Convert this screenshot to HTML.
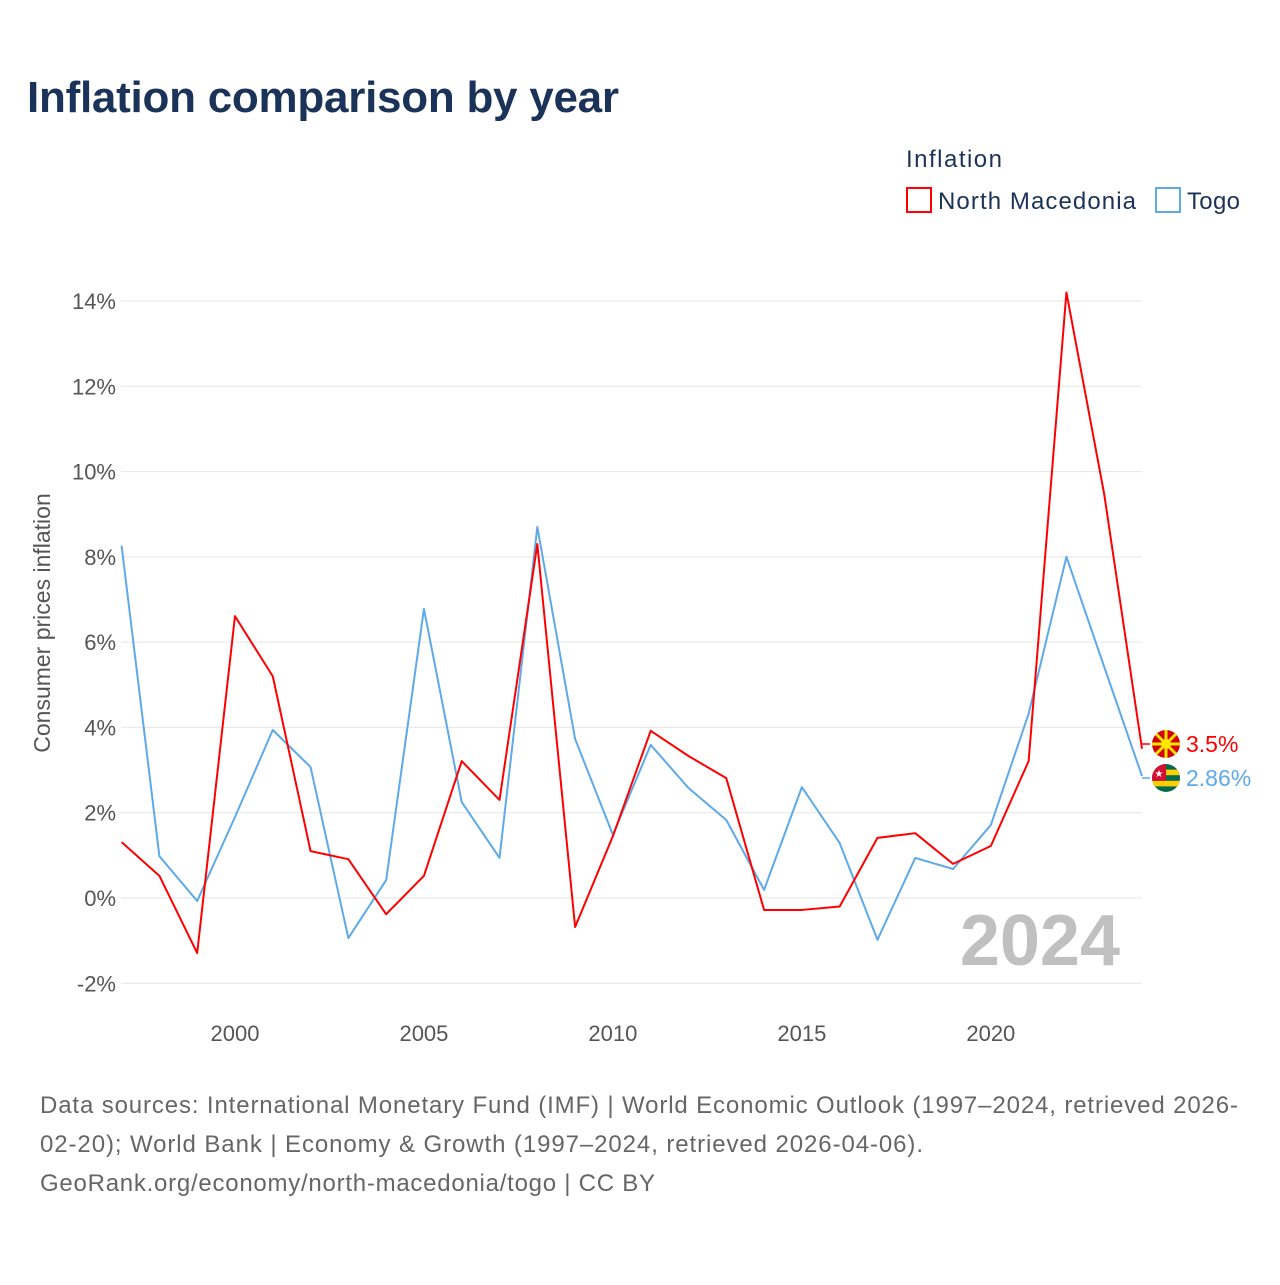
<!DOCTYPE html>
<html><head><meta charset="utf-8">
<style>
body{margin:0;background:#fff;font-family:"Liberation Sans",sans-serif;}
svg text{font-family:"Liberation Sans",sans-serif;}
</style></head>
<body>
<svg width="1280" height="1280" viewBox="0 0 1280 1280">
<text x="27" y="112" font-size="44" font-weight="bold" fill="#1b3358" textLength="592">Inflation comparison by year</text>
<text x="906" y="167" font-size="24" fill="#1b3358" textLength="96">Inflation</text>
<g>
<rect x="907" y="188" width="24" height="24" fill="none" stroke="#ff0000" stroke-width="2"/>
<text x="938" y="209" font-size="24" fill="#1b3358" textLength="198">North Macedonia</text></g>
<g>
<rect x="1156" y="188" width="24" height="24" fill="none" stroke="#5ea9ea" stroke-width="2"/>
<text x="1187" y="209" font-size="24" fill="#1b3358" textLength="53">Togo</text></g>
<g id="grid"></g>
<text x="1120" y="965" font-size="72" font-weight="bold" fill="#c0c0c0" text-anchor="end">2024</text>
<text transform="translate(50,623) rotate(-90)" font-size="23" fill="#555" text-anchor="middle">Consumer prices inflation</text>
<g id="series"></g>
<line x1="1142" y1="744" x2="1150" y2="744" stroke="#ff0000" stroke-width="1.5"/>
<line x1="1142" y1="778" x2="1150" y2="778" stroke="#5ea9ea" stroke-width="1.5"/>
<g><circle cx="1166" cy="744" r="14" fill="#d20000"/><circle cx="1166" cy="744" r="5" fill="#ffe600"/><g stroke="#ffe600" stroke-width="3"><line x1="1152" y1="744" x2="1180" y2="744"/><line x1="1166" y1="730" x2="1166" y2="758"/><line x1="1156" y1="734" x2="1176" y2="754"/><line x1="1176" y1="734" x2="1156" y2="754"/></g></g>
<g><clipPath id="tc"><circle cx="1166" cy="778" r="14"/></clipPath><g clip-path="url(#tc)"><rect x="1152" y="764" width="28" height="28" fill="#006a4e"/><rect x="1152" y="769.6" width="28" height="5.6" fill="#ffce00"/><rect x="1152" y="780.8" width="28" height="5.6" fill="#ffce00"/><rect x="1152" y="764" width="14" height="16.8" fill="#d21034"/></g><text x="1159" y="777" font-size="10" fill="#fff" text-anchor="middle">★</text></g>
<text x="1186" y="752" font-size="23" fill="#ff0000">3.5%</text>
<text x="1186" y="786" font-size="23" fill="#5ea9ea">2.86%</text>
<text font-size="24" fill="#666"><tspan x="40" y="1113" textLength="1198">Data sources: International Monetary Fund (IMF) | World Economic Outlook (1997–2024, retrieved 2026-</tspan><tspan x="40" y="1152" textLength="883">02-20); World Bank | Economy &amp; Growth (1997–2024, retrieved 2026-04-06).</tspan><tspan x="40" y="1191" textLength="615">GeoRank.org/economy/north-macedonia/togo | CC BY</tspan></text>
</svg>
<script>
const years=[1997,1998,1999,2000,2001,2002,2003,2004,2005,2006,2007,2008,2009,2010,2011,2012,2013,2014,2015,2016,2017,2018,2019,2020,2021,2022,2023,2024];
const northMacedonia=[1.31,0.52,-1.29,6.61,5.2,1.1,0.91,-0.38,0.52,3.21,2.3,8.3,-0.68,1.45,3.92,3.33,2.81,-0.28,-0.28,-0.2,1.41,1.52,0.8,1.22,3.21,14.2,9.47,3.5];
const togo=[8.26,0.98,-0.07,1.9,3.94,3.07,-0.94,0.42,6.78,2.25,0.94,8.7,3.73,1.48,3.59,2.58,1.83,0.19,2.6,1.29,-0.98,0.94,0.68,1.71,4.32,8.0,5.42,2.86];
const yTicks=[-2,0,2,4,6,8,10,12,14];
const xTicks=[2000,2005,2010,2015,2020];
const NS='http://www.w3.org/2000/svg';
const x=v=>121.6+(v-1997)*(1142-121.6)/27;
const y=v=>898-v*(898-301)/14;
const grid=document.getElementById('grid');
yTicks.forEach(t=>{
 const l=document.createElementNS(NS,'line');
 l.setAttribute('x1',121);l.setAttribute('x2',1142);l.setAttribute('y1',y(t));l.setAttribute('y2',y(t));
 l.setAttribute('stroke','#e6e6e6');l.setAttribute('stroke-width','1');
 
 
 grid.appendChild(l);
 const tx=document.createElementNS(NS,'text');
 tx.setAttribute('x',116);tx.setAttribute('y',y(t)+8);tx.setAttribute('text-anchor','end');
 tx.setAttribute('font-size','22');tx.setAttribute('fill','#555');
 tx.textContent=t+'%';
 
 
 grid.appendChild(tx);
});
xTicks.forEach(t=>{
 const tx=document.createElementNS(NS,'text');
 tx.setAttribute('x',x(t));tx.setAttribute('y',1041);tx.setAttribute('text-anchor','middle');
 tx.setAttribute('font-size','22');tx.setAttribute('fill','#555');
 tx.textContent=t;
 
 
 grid.appendChild(tx);
});
const sg=document.getElementById('series');
function line(vals,color,name){
 const p=document.createElementNS(NS,'polyline');
 p.setAttribute('points',vals.map((v,i)=>x(years[i])+','+y(v)).join(' '));
 p.setAttribute('fill','none');p.setAttribute('stroke',color);p.setAttribute('stroke-width','2');
 p.setAttribute('stroke-linejoin','round');
 
 
 sg.appendChild(p);
}
line(togo,'#5ea9ea','togo-line');
line(northMacedonia,'#ff0000','north-macedonia-line');
</script>
</body></html>
